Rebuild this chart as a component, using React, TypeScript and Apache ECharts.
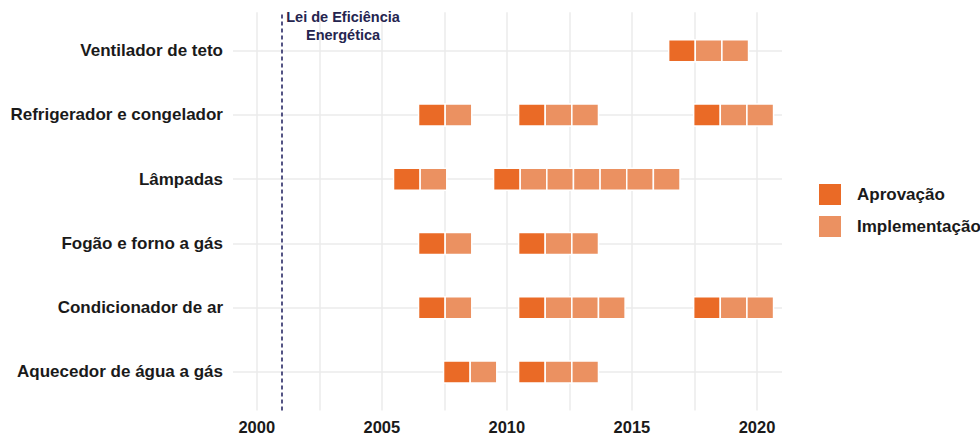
import { useEffect, useRef } from "react";
import * as echarts from "echarts";

// ---- data ----
const categories = [
  "Aquecedor de água a gás",
  "Condicionador de ar",
  "Fogão e forno a gás",
  "Lâmpadas",
  "Refrigerador e congelador",
  "Ventilador de teto",
];
const approvalYears: number[][] = [
  [2008, 2011],
  [2007, 2011, 2018],
  [2007, 2011],
  [2006, 2010],
  [2007, 2011, 2018],
  [2017],
];
const implementationYears: number[][][] = [
  [[2009], [2012, 2013]],
  [[2008], [2012, 2013, 2014], [2019, 2020]],
  [[2008], [2012, 2013]],
  [[2007], [2011, 2012, 2013, 2014, 2015, 2016]],
  [[2008], [2012, 2013], [2019, 2020]],
  [[2018, 2019]],
];
const xTickLabels = [2000, 2005, 2010, 2015, 2020];
const gridYears = [2000, 2002.5, 2005, 2007.5, 2010, 2012.5, 2015, 2017.5, 2020];
const lawYear = 2001;
const lawLabel = "Lei de Eficiência\nEnergética";
const seriesNames = ["Aprovação", "Implementação"];

// ---- style ----
const FONT = "'Liberation Sans', Arial, sans-serif";
const TILE_W = 1.065;
const TILE_H = 0.343;
const DARK = "#EA6A26";
const LIGHT = "#EB9161";

export default function App() {
  const ref = useRef<HTMLDivElement>(null);
  useEffect(() => {
    if (!ref.current) return;
    const chart = echarts.init(ref.current, undefined, { renderer: "svg" });

    const approvalData: number[][] = [];
    const implData: number[][] = [];
    approvalYears.forEach((groups, row) => {
      groups.forEach((start, g) => {
        approvalData.push([start, row, start]);
        implementationYears[row][g].forEach((y) => implData.push([y, row, start]));
      });
    });

    const renderItem = (params: any, api: any) => {
      const year = api.value(0);
      const row = api.value(1);
      const start = api.value(2);
      const c = start + (year - start) * TILE_W;
      const p0 = api.coord([c - TILE_W / 2, row + TILE_H / 2]);
      const p1 = api.coord([c + TILE_W / 2, row - TILE_H / 2]);
      return {
        type: "rect",
        shape: { x: p0[0], y: p0[1], width: p1[0] - p0[0], height: p1[1] - p0[1] },
        style: { fill: api.visual("color"), stroke: "#ffffff", lineWidth: 1.5 },
      };
    };

    const gridLineStyle = { color: "#EBEBEB", width: 1.5, type: "solid" };

    chart.setOption({
      animation: false,
      backgroundColor: "#ffffff",
      grid: {
        left: 233,
        right: 198,
        top: 12.2,
        bottom: 24.5,
        containLabel: false,
        outerBoundsMode: "none",
      },
      legend: {
        data: seriesNames,
        orient: "vertical",
        left: 814,
        top: 179,
        itemWidth: 22,
        itemHeight: 21,
        itemGap: 11,
        icon: "rect",
        textStyle: {
          fontFamily: FONT,
          fontSize: 17,
          fontWeight: "bold",
          color: "#1a1a1a",
          padding: [0, 0, 0, 11],
        },
      },
      xAxis: {
        type: "value",
        min: 1999.05,
        max: 2021.0,
        axisLine: { show: false },
        axisTick: { show: false },
        splitLine: { show: false },
        axisLabel: {
          customValues: xTickLabels,
          fontFamily: FONT,
          fontSize: 16.5,
          fontWeight: "bold",
          color: "#1a1a1a",
          margin: 8,
          formatter: (v: number) => String(v),
        },
      },
      yAxis: {
        type: "value",
        min: -0.6,
        max: 5.6,
        axisLine: { show: false },
        axisTick: { show: false },
        splitLine: { show: false },
        axisLabel: {
          customValues: categories.map((_, i) => i),
          fontFamily: FONT,
          fontSize: 17,
          fontWeight: "bold",
          color: "#1a1a1a",
          margin: 10,
          formatter: (v: number) => categories[Math.round(v)] ?? "",
        },
      },
      series: [
        {
          type: "line",
          name: "grid",
          data: [],
          z: 1,
          silent: true,
          markLine: {
            silent: true,
            symbol: ["none", "none"],
            label: { show: false },
            data: [
              ...gridYears.map((y) => ({ xAxis: y, lineStyle: gridLineStyle })),
              ...categories.map((_, i) => ({ yAxis: i, lineStyle: gridLineStyle })),
              {
                xAxis: lawYear,
                lineStyle: { color: "#2a2a66", width: 1.6, type: [4, 3] },
              },
            ],
          },
          markPoint: {
            silent: true,
            symbol: "circle",
            symbolSize: 0,
            data: [{ coord: [2003.45, 5.385] }],
            label: {
              show: true,
              position: "inside",
              formatter: lawLabel,
              fontFamily: FONT,
              fontSize: 14.5,
              fontWeight: "bold",
              color: "#25254f",
              lineHeight: 17.5,
              align: "center",
            },
          },
        },
        {
          type: "custom",
          name: seriesNames[0],
          z: 10,
          itemStyle: { color: DARK },
          encode: { x: 0, y: 1 },
          renderItem,
          data: approvalData,
        },
        {
          type: "custom",
          name: seriesNames[1],
          z: 10,
          itemStyle: { color: LIGHT },
          encode: { x: 0, y: 1 },
          renderItem,
          data: implData,
        },
      ],
    });
    return () => chart.dispose();
  }, []);
  return (
    <div
      ref={ref}
      style={{ position: "absolute", left: 0, top: 0, width: 980, height: 435 }}
    />
  );
}
